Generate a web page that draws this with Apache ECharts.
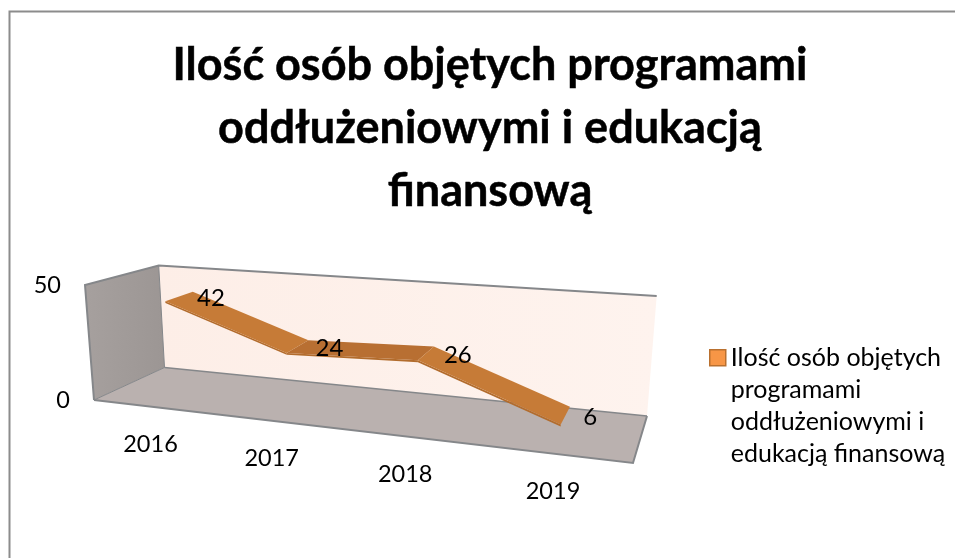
<!DOCTYPE html>
<html>
<head>
<meta charset="utf-8">
<style>html,body{margin:0;padding:0;background:#fff}#c{width:955px;height:558px}</style>
<script src="https://cdn.jsdelivr.net/npm/echarts@6/dist/echarts.min.js"></script>
</head>
<body>
<div id="c"></div>
<script>
const categories = ['2016', '2017', '2018', '2019'];
const values = [42, 24, 26, 6];
const yTicks = [0, 50];
const seriesName = 'Ilość osób objętych\nprogramami\noddłużeniowymi i\nedukacją finansową';
const titleText = 'Ilość osób objętych programami\noddłużeniowymi i edukacją\nfinansową';

// Corners of the drawn 3D box: [u][v][w] (u along years, v along values, w into depth)
const BOX = {
  '000': [94, 400], '010': [85, 285], '001': [164.5, 367.5], '011': [158.7, 265.5],
  '100': [633, 463], '110': [642, 328], '101': [647, 416], '111': [656.7, 296]
};
const PERSPECTIVE = 1.22, FRONT = 0.31, BACK = 0.72;
const mix = (a, b, t) => [a[0] + (b[0] - a[0]) * t, a[1] + (b[1] - a[1]) * t];
function project(u, v, w) {
  const warped = u / (u + PERSPECTIVE * (1 - u));
  const plane = (k) => mix(
    mix(BOX['00' + k], BOX['01' + k], v),
    mix(BOX['10' + k], BOX['11' + k], v), warped);
  return mix(plane(0), plane(1), w);
}
// Data -> flat grid pixels through the ECharts axes -> box projection
function toBox(api, params, cat, val, w) {
  const p = api.coord([cat, val]);
  const g = params.coordSys;
  return project((p[0] - g.x) / g.width, (g.y + g.height - p[1]) / g.height, w);
}
const textStyle = (x, y, text, align, size) => ({
  type: 'text',
  style: { x, y, text, fill: '#000', font: (size || 23.5) + 'px Lato', align: align, verticalAlign: 'middle' },
  z2: 20
});
const wallLine = { stroke: '#85878A', lineWidth: 2, fill: null };

function renderBox(params, api) {
  const P = (u, v, w) => project(u, v, w);
  const poly = (pts, style) => ({ type: 'polygon', shape: { points: pts }, style });
  const line = (pts, lw) => ({ type: 'polyline', shape: { points: pts }, style: Object.assign({}, wallLine, { lineWidth: lw || 2 }) });
  const children = [
    poly([P(0,0,1), P(0,1,1), P(1,1,1), P(1,0,1)], {
      fill: { type: 'linear', x: 0, y: 0, x2: 1, y2: 0, colorStops: [{ offset: 0, color: '#FDEEE7' }, { offset: 1, color: '#FEF3EE' }] }
    }),
    poly([P(0,0,0), P(0,1,0), P(0,1,1), P(0,0,1)], {
      fill: { type: 'linear', x: 0, y: 0, x2: 1, y2: 0, colorStops: [{ offset: 0, color: '#A6A09E' }, { offset: 1, color: '#9C9694' }] }
    }),
    poly([P(0,0,0), P(1,0,0), P(1,0,1), P(0,0,1)], { fill: '#BAB1AF' }),
    line([P(0,0,1), P(0,1,1)], 1),
    line([P(0,0,1), P(1,0,1)], 1.5),
    line([P(0,0,1), P(0,0,0)], 1),
    line([P(0,0,0), P(0,1,0), P(0,1,1), P(1,1,1)]),
    line([P(0,0,0), P(1,0,0), P(1,0,1)])
  ];
  const g = params.coordSys;
  yTicks.forEach(t => {
    const py = api.coord([0, t])[1];
    const q = project(0, (g.y + g.height - py) / g.height, 0);
    children.push(textStyle(q[0] - 24, q[1], String(t), 'right'));
  });
  categories.forEach((c, i) => {
    const p = toBox(api, params, i, 0, 0);
    children.push(textStyle(p[0], p[1] + 38, c, 'center'));
  });
  return { type: 'group', children };
}

function renderRibbon(params, api) {
  const i = params.dataIndex;
  const children = [];
  if (i < values.length - 1) {
    const a0 = toBox(api, params, i, values[i], FRONT), a1 = toBox(api, params, i, values[i], BACK);
    const b0 = toBox(api, params, i + 1, values[i + 1], FRONT), b1 = toBox(api, params, i + 1, values[i + 1], BACK);
    const a0d = toBox(api, params, i, values[i] - 0.8, FRONT), b0d = toBox(api, params, i + 1, values[i + 1] - 0.8, FRONT);
    const flat = Math.abs(values[i + 1] - values[i]) < 5;
    children.push({ type: 'polygon', shape: { points: [a0, b0, b0d, a0d] }, style: { fill: '#B26C2D' }, z2: 5 + i });
    children.push({ type: 'polygon', shape: { points: [a0, a1, b1, b0] }, style: { fill: flat ? '#B86F32' : '#C67B37' }, z2: 6 + i });
  }
  const mid = toBox(api, params, i, values[i], (FRONT + BACK) / 2);
  children.push(textStyle(mid[0] + 18, mid[1] + 2, String(values[i]), 'left', 24));
  return { type: 'group', children };
}

const chart = echarts.init(document.getElementById('c'), null, { renderer: 'canvas' });
chart.setOption({
  animation: false,
  backgroundColor: '#fff',
  title: {
    text: titleText, left: 485, top: 29, textAlign: 'center',
    textStyle: { fontFamily: 'Lato', fontWeight: 'bold', fontSize: 45, lineHeight: 63, color: '#000', textBorderColor: '#000', textBorderWidth: 0.5 }
  },
  legend: {
    left: 709, top: 341, orient: 'vertical', padding: 0,
    itemWidth: 16, itemHeight: 128, selectedMode: false,
    data: [{ name: seriesName, icon: 'path://M0 0L0 0M0 8H16V24H0ZM0 128L0 128' }],
    itemStyle: { color: '#F79646', borderColor: '#B9702F', borderWidth: 1.5 },
    textStyle: { fontFamily: 'Lato', fontSize: 25, lineHeight: 32, color: '#000' }
  },
  grid: { left: 100, top: 280, width: 500, height: 100, show: false },
  xAxis: { type: 'category', data: categories, show: false },
  yAxis: { type: 'value', min: 0, max: 50, interval: 50, show: false },
  graphic: [{ type: 'polyline', shape: { points: [[9.5, 558], [9.5, 11.5], [955, 11.5]] }, style: { stroke: '#8C8C8C', lineWidth: 2, fill: null } }],
  series: [
    { type: 'custom', name: 'box', renderItem: renderBox, data: [[0, 0]], silent: true, z: 1, encode: { x: 0, y: 1 } },
    { type: 'custom', name: seriesName, renderItem: renderRibbon, data: values.map((v, i) => [i, v]), silent: true, z: 2, encode: { x: 0, y: 1 },
      itemStyle: { color: '#F79646' } }
  ]
});
</script>
</body>
</html>
